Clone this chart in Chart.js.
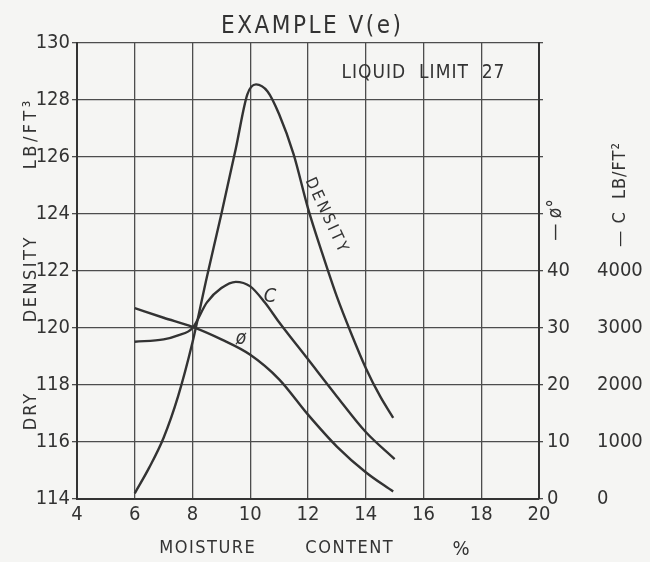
<!DOCTYPE html>
<html>
<head>
<meta charset="utf-8">
<script src="https://cdn.jsdelivr.net/npm/chart.js@4.4.1/dist/chart.umd.min.js"></script>
<style>
  html, body { margin: 0; padding: 0; background: #f5f5f3; }
  #wrap { width: 650px; height: 562px; position: relative; }
</style>
</head>
<body>
<div id="wrap"><canvas id="c"></canvas></div>
<script>
// ---- data ----
const densityMoisture = [6, 6.5, 7, 7.5, 8, 8.5, 9, 9.5, 9.9, 10.2, 10.6, 11, 11.5, 12, 12.5, 13, 13.5, 14, 14.5, 14.95];
const densityValues   = [114.2, 115.1, 116.15, 117.6, 119.5, 121.8, 124.0, 126.3, 128.2, 128.55, 128.3, 127.5, 126.1, 124.2, 122.6, 121.1, 119.8, 118.6, 117.6, 116.85];

const cMoisture = [6, 7, 7.5, 8, 8.5, 9, 9.5, 10, 10.5, 11, 12, 13, 14, 15];
const cValues   = [2760, 2800, 2870, 3000, 3450, 3700, 3810, 3730, 3450, 3100, 2450, 1800, 1175, 700];

const phiMoisture = [6, 7, 8, 9, 10, 11, 12, 13, 14, 14.95];
const phiValues   = [33.5, 31.8, 30.2, 28, 25.3, 21, 14.8, 9.2, 4.7, 1.3];

const xTicks   = [4, 6, 8, 10, 12, 14, 16, 18, 20];
const yTicks   = [114, 116, 118, 120, 122, 124, 126, 128, 130];
const phiTicks = [0, 10, 20, 30, 40, 50, 60, 70, 80];
const phiLabelMax = 40;
const cTicks   = [0, 1000, 2000, 3000, 4000];

const FONT = '"DejaVu Sans Condensed", "Liberation Sans Narrow", "DejaVu Sans", sans-serif';
const INK = '#333333';
const GRID = '#4d4d4d';

const pts = (xs, ys) => xs.map((x, i) => ({ x: x, y: ys[i] }));

const bgPlugin = {
  id: 'bg',
  beforeDraw(chart) {
    const ctx = chart.ctx;
    ctx.save();
    ctx.fillStyle = '#f5f5f3';
    ctx.fillRect(0, 0, chart.width, chart.height);
    ctx.restore();
  }
};

function spaced(ctx, text, x, y, font, spacing) {
  ctx.font = font;
  ctx.letterSpacing = spacing + 'px';
  ctx.fillText(text, x + spacing / 2, y);
  ctx.letterSpacing = '0px';
}

const textPlugin = {
  id: 'texts',
  afterDraw(chart) {
    const ctx = chart.ctx;
    ctx.save();
    ctx.fillStyle = INK;
    ctx.textBaseline = 'middle';
    ctx.textAlign = 'center';
    // title
    spaced(ctx, 'EXAMPLE \u2164(e)', 311, 27, '24px ' + FONT, 2.5);
    // liquid limit
    spaced(ctx, 'LIQUID  LIMIT  27', 423, 73, '19px ' + FONT, 1);
    // x axis title
    spaced(ctx, 'MOISTURE', 207, 548, '18px ' + FONT, 1.5);
    spaced(ctx, 'CONTENT', 349, 548, '18px ' + FONT, 1.5);
    ctx.font = '20px ' + FONT;
    ctx.fillText('%', 461, 550);
    // left axis title
    ctx.save();
    ctx.translate(31, 0);
    ctx.rotate(-Math.PI / 2);
    spaced(ctx, 'DRY', -412, 0, '18px ' + FONT, 2);
    spaced(ctx, 'DENSITY', -280, 0, '18px ' + FONT, 2.5);
    spaced(ctx, 'LB/FT\u00b3', -135, 0, '18px ' + FONT, 3.5);
    ctx.restore();
    // DENSITY along the curve
    ctx.save();
    ctx.translate(326, 215);
    ctx.rotate(65 * Math.PI / 180);
    spaced(ctx, 'DENSITY', 0, 0, '16px ' + FONT, 3);
    ctx.restore();
    // C and phi curve labels
    ctx.font = 'italic 20px ' + FONT;
    ctx.fillText('C', 270, 297);
    ctx.font = 'italic 19px ' + FONT;
    ctx.fillText('\u00f8', 241, 339);
    // right axis titles (rotated)
    ctx.save();
    ctx.translate(556, 220);
    ctx.rotate(-Math.PI / 2);
    ctx.font = '19px ' + FONT;
    ctx.fillText('\u2014 \u00f8\u00b0', 0, 0);
    ctx.restore();
    ctx.save();
    ctx.translate(620, 195);
    ctx.rotate(-Math.PI / 2);
    spaced(ctx, '\u2014 C  LB/FT\u00b2', 0, 0, '18px ' + FONT, 1);
    ctx.restore();
    ctx.restore();
  }
};

const tickFont = { family: FONT, size: 20 };

new Chart(document.getElementById('c'), {
  type: 'line',
  data: {
    datasets: [
      { label: 'DENSITY', data: pts(densityMoisture, densityValues), yAxisID: 'y' },
      { label: 'C', data: pts(cMoisture, cValues), yAxisID: 'yC' },
      { label: '\u00f8', data: pts(phiMoisture, phiValues), yAxisID: 'yPhi' }
    ].map(d => Object.assign(d, {
      borderColor: INK, borderWidth: 2.4, pointRadius: 0, fill: false,
      cubicInterpolationMode: 'monotone'
    }))
  },
  options: {
    responsive: true,
    maintainAspectRatio: false,
    animation: false,
    layout: { padding: { top: 43, left: 0, right: 0, bottom: 0 } },
    plugins: { legend: { display: false }, title: { display: false }, tooltip: { enabled: false } },
    scales: {
      x: {
        type: 'linear', min: 4, max: 20,
        afterBuildTicks: s => { s.ticks = xTicks.map(v => ({ value: v })); },
        afterFit: s => { s.height = 63; },
        grid: { color: GRID, lineWidth: 1.3, drawTicks: false },
        border: { color: INK, width: 2 },
        ticks: { font: tickFont, color: INK, padding: 4, maxRotation: 0, callback: v => String(v) },
        title: { display: false, text: 'MOISTURE CONTENT %' }
      },
      y: {
        type: 'linear', position: 'left', min: 114, max: 130,
        afterBuildTicks: s => { s.ticks = yTicks.map(v => ({ value: v })); },
        afterFit: s => { s.width = 77; },
        grid: { color: GRID, lineWidth: 1.3, tickLength: 5 },
        border: { color: INK, width: 2 },
        ticks: { font: tickFont, color: INK, padding: 2, callback: v => String(v) },
        title: { display: false, text: 'DRY DENSITY LB/FT\u00b3' }
      },
      yPhi: {
        type: 'linear', position: 'right', min: 0, max: 80,
        afterBuildTicks: s => { s.ticks = phiTicks.map(v => ({ value: v })); },
        afterFit: s => { s.width = 50; },
        grid: { drawOnChartArea: false, color: GRID, lineWidth: 1.3, tickLength: 4 },
        border: { color: INK, width: 2 },
        ticks: { font: tickFont, color: INK, padding: 4, callback: v => (v <= phiLabelMax ? String(v) : '') }
      },
      yC: {
        type: 'linear', position: 'right', min: 0, max: 8000,
        afterBuildTicks: s => { s.ticks = cTicks.map(v => ({ value: v })); },
        afterFit: s => { s.width = 61; },
        grid: { display: false, drawTicks: false },
        border: { display: false },
        ticks: { font: tickFont, color: INK, padding: 8, callback: v => String(v) }
      }
    }
  },
  plugins: [bgPlugin, textPlugin]
});
</script>
</body>
</html>
